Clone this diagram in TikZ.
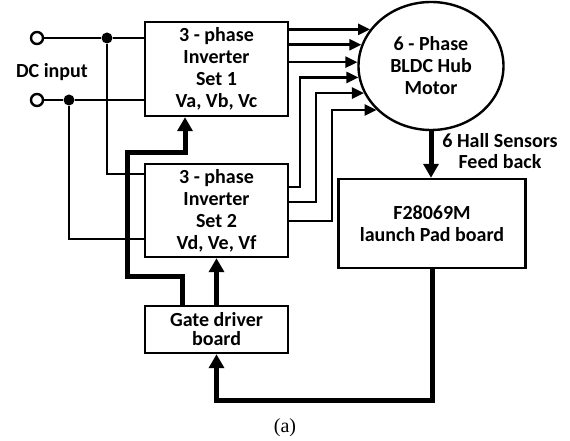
\documentclass[tikz,border=0pt]{standalone}
\usepackage{fontspec}
\setmainfont{Carlito}
\newfontfamily\capfont{Liberation Serif}
\usetikzlibrary{arrows.meta,calc,shapes.geometric}

\begin{document}
\begin{tikzpicture}[x=1pt,y=-1pt,
    lbl/.style={align=center,font=\fontsize{20}{22}\selectfont\bfseries},
    box/.style={lbl,draw,line width=2.4pt,minimum width=143pt},
    wire/.style={line width=2.2pt},
    bus/.style={line width=5pt,-{Triangle[length=14pt,width=15pt]}},
    feed/.style={line width=2.5pt,-{Triangle[length=12pt,width=11pt]}},
    term/.style={circle,draw,line width=2.4pt,fill=white,minimum size=12pt,inner sep=0pt},
    jdot/.style={circle,fill,minimum size=11pt,inner sep=0pt}]
  \useasboundingbox(0,0)rectangle(570,441);
  % blocks
  \node[box,minimum height=94pt](inv1)at(216.5,69){3 - phase\\Inverter\\Set 1\\Va, Vb, Vc};
  \node[box,minimum height=93pt](inv2)at(216.5,210.5){3 - phase\\Inverter\\Set 2\\Vd, Ve, Vf};
  \node[box,minimum height=47pt,font=\fontsize{20}{19}\selectfont\bfseries](gate)at(216.5,329.5){Gate driver\\board};
  \node[box,minimum width=187pt,minimum height=89pt](pad)at(432,223.5){F28069M\\launch Pad board};
  \node[lbl,ellipse,draw,line width=2.4pt,minimum width=145pt,minimum height=128pt](motor)at(431,66){6 - Phase\\BLDC Hub\\Motor};
  % dc input
  \node[term](t1)at(37,38){};
  \node[term](t2)at(37,100){};
  \node[jdot](d1)at(107,38){};
  \node[jdot](d2)at(69,100){};
  \node[lbl](dc)at(52,72){DC input};
  \draw[wire](t1)--(d1)--(inv1.west|-d1);
  \draw[wire](d1)|-(inv2.west|-0,174);
  \draw[wire](t2)--(d2)--(inv1.west|-d2);
  \draw[wire](d2)|-(inv2.west|-0,239);
  % phases to motor
  \foreach \a in {149,163,177}
    \draw[feed](inv1.east|-motor.\a)--(motor.\a);
  \foreach \y/\x/\a in {187/300/189,202/316/202,221/332/219}
    \draw[feed](inv2.east|-0,\y)--(\x,\y)|-(motor.\a);
  % gate signals and feedback
  \draw[bus](gate.north-|182,0)|-(127,276)|-(185,152)--(inv1.south-|185,0);
  \draw[bus](gate.north)--(inv2.south);
  \draw[bus](pad.south)--(pad.south|-0,400)-|(gate.south);
  \draw[bus](motor.south)--(motor.south|-pad.north);
  \node[lbl,font=\fontsize{20}{21}\selectfont\bfseries](hall)at(500,151){6 Hall Sensors\\Feed back};
  \node[font=\capfont\fontsize{20}{22}\selectfont](cap)at(285,428){(a)};
\end{tikzpicture}
\end{document}
